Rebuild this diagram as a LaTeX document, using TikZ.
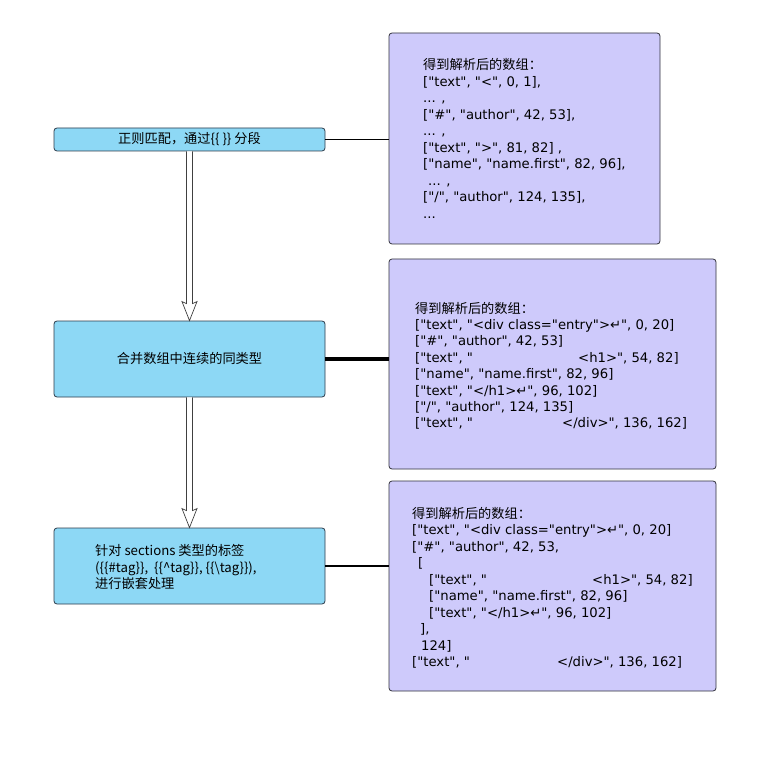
\documentclass[tikz,border=0pt]{standalone}
\usepackage{fontspec}
\newfontfamily\lat{DejaVu Sans}
\newfontfamily\cjkf{Noto Sans CJK SC}
\usetikzlibrary{calc}
\definecolor{procblue}{RGB}{141,216,245}
\definecolor{procline}{RGB}{45,60,75}
\definecolor{reslav}{RGB}{206,202,251}
\definecolor{resline}{RGB}{50,50,60}
\newcommand{\cj}[1]{{\cjkf #1}}
\begin{document}
\begin{tikzpicture}[x=1pt,y=-1pt,
  proc/.style={draw=procline, fill=procblue, rounded corners=3pt, line width=0.8pt, inner sep=0pt},
  res/.style={draw=resline, fill=reslav, rounded corners=3pt, line width=0.8pt, inner sep=0pt},
  ln/.style={anchor=base west, inner sep=0pt, font=\lat\fontsize{13.2}{16}\selectfont},
  pl/.style={anchor=base west, inner sep=0pt, font=\cjkf\fontsize{13.2}{16}\selectfont},
  hollow/.style={draw=black!75, fill=white, line width=0.7pt, line join=miter}]
\path[fill=white, use as bounding box] (0,0) rectangle (772,757);

% process boxes
\node[proc, minimum width=271pt, minimum height=23pt, font=\cjkf\fontsize{13.2}{16}\selectfont] (p1) at (189.5,139.5) {正则匹配，通过\{\{ \}\} 分段};
\node[proc, minimum width=271pt, minimum height=76pt, font=\cjkf\fontsize{13.2}{16}\selectfont] (p2) at (189.5,359) {合并数组中连续的同类型};
\node[proc, minimum width=271pt, minimum height=76pt] (p3) at (189.5,566) {};
\node[pl] (p3a) at (95,555) {针对 sections 类型的标签};
\node[pl] (p3b) at (95,572) {(\{\{\#tag\}\},\ \ \{\{\textasciicircum tag\}\}, \{\{\textbackslash tag\}\}),};
\node[pl] (p3c) at (95,588.5) {进行嵌套处理};

% result boxes
\node[res, minimum width=271pt, minimum height=211pt] (r1) at (524.5,138.5) {};
\node[res, minimum width=327pt, minimum height=210pt] (r2) at (552.5,364) {};
\node[res, minimum width=327pt, minimum height=210pt] (r3) at (552.5,586) {};

% connectors
\draw[line width=1.3pt] (p1.east) -- (p1.east -| r1.west);
\draw[line width=3.5pt] (p2.east) -- (p2.east -| r2.west);
\draw[line width=2.8pt] (p3.east) -- (p3.east -| r3.west);

% hollow arrows
\draw[hollow] ($(p1.south)+(-3,0)$) -- ($(p2.north)+(-3,-17)$) -- ($(p2.north)+(-7.5,-19)$)
  -- (p2.north) -- ($(p2.north)+(7.5,-19)$) -- ($(p2.north)+(3,-17)$) -- ($(p1.south)+(3,0)$);
\draw[hollow] ($(p2.south)+(-3,0)$) -- ($(p3.north)+(-3,-17)$) -- ($(p3.north)+(-7.5,-19)$)
  -- (p3.north) -- ($(p3.north)+(7.5,-19)$) -- ($(p3.north)+(3,-17)$) -- ($(p2.south)+(3,0)$);

% r1 text
\node[pl] (a1) at (423,70) {得到解析后的数组：};
\node[ln] (a2) at (423,86.5) {["text", "<", 0, 1],};
\node[ln] (a3) at (423,103) {... ,};
\node[ln] (a4) at (423,119.5) {["\#", "author", 42, 53],};
\node[ln] (a5) at (423,136) {... ,};
\node[ln] (a6) at (423,152.5) {["text", ">", 81, 82] ,};
\node[ln] (a7) at (423,169) {["name", "name.first", 82, 96],};
\node[ln] (a8) at (428,185.5) {... ,};
\node[ln] (a9) at (423,202) {["/", "author", 124, 135],};
\node[ln] (a10) at (423,218.5) {...};

% r2 text
\node[pl] (b1) at (415,313) {得到解析后的数组：};
\node[ln] (b2) at (415,329.4) {["text", "<div class="entry">↵", 0, 20]};
\node[ln] (b3) at (415,345.8) {["\#", "author", 42, 53]};
\node[ln] (b4) at (415,362.2) {["text", "};
\node[ln] (b4b) at (578,362.2) {<h1>", 54, 82]};
\node[ln] (b5) at (415,378.6) {["name", "name.first", 82, 96]};
\node[ln] (b6) at (415,395) {["text", "</h1>↵", 96, 102]};
\node[ln] (b7) at (415,411.4) {["/", "author", 124, 135]};
\node[ln] (b8) at (415,427.8) {["text", "};
\node[ln] (b8b) at (562,427.8) {</div>", 136, 162]};

% r3 text
\node[pl] (c1) at (412,518) {得到解析后的数组：};
\node[ln] (c2) at (412,534.5) {["text", "<div class="entry">↵", 0, 20]};
\node[ln] (c3) at (412,551) {["\#", "author", 42, 53,};
\node[ln] (c4) at (418,567.5) {[};
\node[ln] (c5) at (429,584) {["text", "};
\node[ln] (c5b) at (592,584) {<h1>", 54, 82]};
\node[ln] (c6) at (429,600.5) {["name", "name.first", 82, 96]};
\node[ln] (c7) at (429,617) {["text", "</h1>↵", 96, 102]};
\node[ln] (c8) at (420,633.5) {],};
\node[ln] (c9) at (421,650) {124]};
\node[ln] (c10) at (412,666.5) {["text", "};
\node[ln] (c10b) at (557,666.5) {</div>", 136, 162]};
\end{tikzpicture}
\end{document}
